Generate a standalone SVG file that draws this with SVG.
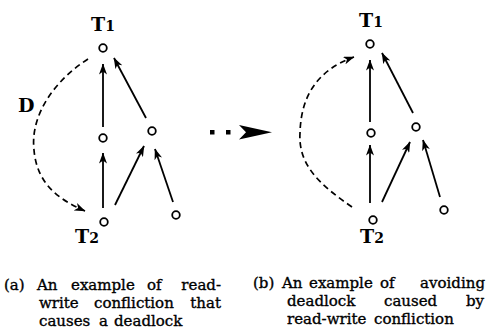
<svg xmlns="http://www.w3.org/2000/svg" width="487" height="335" viewBox="0 0 487 335">
<style>
.bg{fill:#fff}
.node{fill:#fff;stroke:#000;stroke-width:1.8}
.edge{fill:none;stroke:#000;stroke-width:1.8}
.dash{fill:none;stroke:#000;stroke-width:1.7;stroke-dasharray:6 4}
.lbl{font-family:"DejaVu Serif","Liberation Serif",serif;font-size:19px;font-weight:bold;fill:#000}
.sub{font-size:14px}
.cap text{font-family:"DejaVu Serif","Liberation Serif",serif;font-size:15px;fill:#000;stroke:#000;stroke-width:0.35}
.cap text.end{text-anchor:end}
</style>
<defs>
<marker id="ah" viewBox="0 0 11 8" markerWidth="11" markerHeight="8" refX="10.5" refY="4" orient="auto" markerUnits="userSpaceOnUse">
<path d="M0,0 L11,4 L0,8 L3,4 Z" fill="#000"/>
</marker>
</defs>
<rect class="bg" x="0" y="0" width="487" height="335"/>

<g id="connectors">
<!-- (a) -->
<path class="edge" d="M103,127 L103,64" marker-end="url(#ah)"/>
<path class="edge" d="M146,118 L114,58" marker-end="url(#ah)"/>
<path class="edge" d="M103,208 L103,153" marker-end="url(#ah)"/>
<path class="edge" d="M115,205 L144,146" marker-end="url(#ah)"/>
<path class="edge" d="M173,202 L155,149" marker-end="url(#ah)"/>
<path class="dash" d="M88,59 C55,80 30,115 34,150 C37,185 60,200 85,211" marker-end="url(#ah)"/>
<text class="lbl" x="18" y="112" font-size="18">D</text>
<!-- transition arrow -->
<rect x="210" y="130" width="4.5" height="4.5" fill="#000"/>
<rect x="226" y="130" width="4.5" height="4.5" fill="#000"/>
<path d="M272,132.2 L239,125 L246,132.2 L239,139.5 Z" fill="#000"/>
<!-- (b) -->
<path class="edge" d="M370,122 L370,60" marker-end="url(#ah)"/>
<path class="edge" d="M413,113 L382,53" marker-end="url(#ah)"/>
<path class="edge" d="M370,203 L370,145" marker-end="url(#ah)"/>
<path class="edge" d="M382,202 L410,142" marker-end="url(#ah)"/>
<path class="edge" d="M440,197 L423,140" marker-end="url(#ah)"/>
<path class="dash" d="M352,207 C320,185 298,165 300,133 C301,95 318,70 354,57" marker-end="url(#ah)"/>
</g>

<g id="a-T1">
<circle class="node" cx="103" cy="48" r="3.8"/>
<text class="lbl" x="91" y="31">T<tspan class="sub">1</tspan></text>
</g>
<g id="a-n1"><circle class="node" cx="103" cy="138" r="3.8"/></g>
<g id="a-n2"><circle class="node" cx="152" cy="131" r="3.8"/></g>
<g id="a-T2">
<circle class="node" cx="104" cy="222" r="3.8"/>
<text class="lbl" x="75" y="243">T<tspan class="sub">2</tspan></text>
</g>
<g id="a-n3"><circle class="node" cx="176" cy="215" r="3.8"/></g>

<g id="b-T1">
<circle class="node" cx="370" cy="44" r="3.8"/>
<text class="lbl" x="359" y="27">T<tspan class="sub">1</tspan></text>
</g>
<g id="b-n1"><circle class="node" cx="371" cy="133" r="3.8"/></g>
<g id="b-n2"><circle class="node" cx="416" cy="127" r="3.8"/></g>
<g id="b-T2">
<circle class="node" cx="373" cy="220" r="3.8"/>
<text class="lbl" x="360" y="243">T<tspan class="sub">2</tspan></text>
</g>
<g id="b-n3"><circle class="node" cx="444" cy="210" r="3.8"/></g>

<g id="caption-a" class="cap">
<text x="4" y="290">(a)</text>
<text x="37" y="290">An</text>
<text x="71" y="290">example</text>
<text x="147" y="290">of</text>
<text class="end" x="221" y="290">read-</text>
<text x="39" y="308">write</text>
<text x="94" y="308">confliction</text>
<text class="end" x="221" y="308">that</text>
<text x="39" y="326">causes</text>
<text x="99" y="326">a</text>
<text x="114" y="326">deadlock</text>
</g>
<g id="caption-b" class="cap">
<text x="253" y="288">(b)</text>
<text x="282" y="288">An</text>
<text x="309" y="288">example</text>
<text x="380" y="288">of</text>
<text class="end" x="485" y="288">avoiding</text>
<text x="287" y="306">deadlock</text>
<text x="384" y="306">caused</text>
<text class="end" x="484" y="306">by</text>
<text x="287" y="324">read-write</text>
<text x="374" y="324">confliction</text>
</g>
</svg>
